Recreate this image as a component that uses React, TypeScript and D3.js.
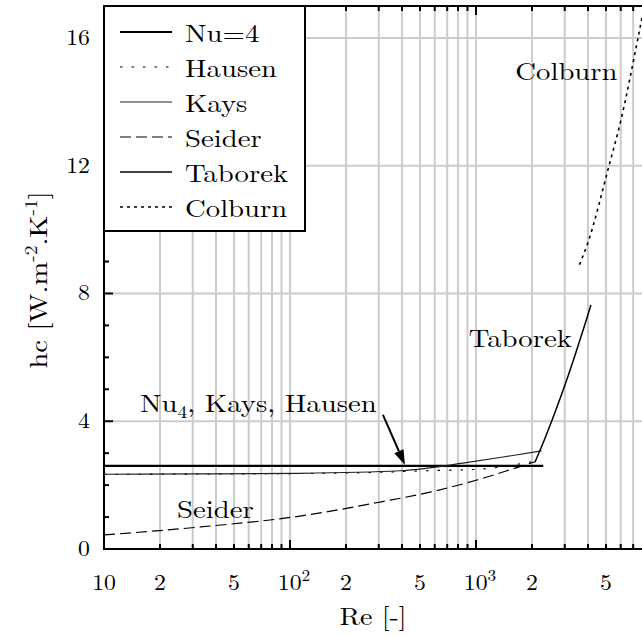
import React from "react";
import * as d3 from "d3";

// ---- data ----
const reNu4 = [10, 2300];
const hcNu4 = [2.6, 2.6];

const reKays = [10, 30, 113, 390, 545, 850, 1400, 2250];
const hcKays = [2.34, 2.35, 2.37, 2.45, 2.53, 2.69, 2.88, 3.07];

const reHausen = [10, 100, 300, 530, 1050, 1580, 2130];
const hcHausen = [2.34, 2.36, 2.4, 2.45, 2.5, 2.63, 2.76];

const reSeider = [10, 33, 113, 305, 566, 1012, 1563, 2100];
const hcSeider = [0.44, 0.69, 1.03, 1.47, 1.78, 2.16, 2.5, 2.74];

const reTaborek = [2075, 2350, 2660, 3010, 3400, 3850, 4150];
const hcTaborek = [2.72, 3.47, 4.28, 5.14, 6.05, 7.03, 7.64];

const reColburn = [3600, 4000, 5190, 6000, 7430, 8600];
const hcColburn = [8.9, 9.6, 12.0, 13.4, 16.0, 17.9];

const legendLabels = ["Nu=4", "Hausen", "Kays", "Seider", "Taborek", "Colburn"];
const yMajorTicks = [0, 4, 8, 12, 16];
const xLabelTicks = [
  { v: 10, base: "10", sup: "" },
  { v: 20, base: "2", sup: "" },
  { v: 50, base: "5", sup: "" },
  { v: 100, base: "10", sup: "2" },
  { v: 200, base: "2", sup: "" },
  { v: 500, base: "5", sup: "" },
  { v: 1000, base: "10", sup: "3" },
  { v: 2000, base: "2", sup: "" },
  { v: 5000, base: "5", sup: "" },
];

// annotations in data space
const arrowFrom = [316, 4.2];
const arrowTo = [415, 2.63];

const FONT = "Latin Modern Roman";
const W = 642;
const H = 637;
const L = 104;
const T = 6;
const B = 549;
const R = 104 + 3 * 186;

const x = d3.scaleLog().domain([10, 10000]).range([L, R]);
const y = d3.scaleLinear().domain([0, 17]).range([B, T]);

function path(re: number[], hc: number[]) {
  const line = d3
    .line<number>()
    .x((d) => x(d))
    .y((_d, i) => y(hc[i]))
    .curve(d3.curveMonotoneX);
  return line(re) || "";
}

type Style = { w: number; dash?: string; color: string };
const styles: Style[] = [
  { w: 2.2, color: "#000" },
  { w: 1.1, dash: "2.5,9", color: "#000" },
  { w: 1.2, color: "#222" },
  { w: 1.2, dash: "11,5", color: "#000" },
  { w: 1.5, color: "#000" },
  { w: 1.6, dash: "3,4", color: "#000" },
];

function Txt(props: {
  x: number;
  y: number;
  size: number;
  sx?: number;
  anchor?: string;
  rotate?: number;
  children: React.ReactNode;
}) {
  const sx = props.sx ?? 1.15;
  const rot = props.rotate ? ` rotate(${props.rotate})` : "";
  return (
    <text
      transform={`translate(${props.x},${props.y})${rot} scale(${sx},1)`}
      style={{ fontFamily: FONT, fontSize: props.size + "px" }}
      textAnchor={props.anchor ?? "start"}
      fill="#000"
    >
      {props.children}
    </text>
  );
}

export default function App() {
  const series = [
    { re: reNu4, hc: hcNu4, s: styles[0] },
    { re: reHausen, hc: hcHausen, s: styles[1] },
    { re: reKays, hc: hcKays, s: styles[2] },
    { re: reSeider, hc: hcSeider, s: styles[3] },
    { re: reTaborek, hc: hcTaborek, s: styles[4] },
    { re: reColburn, hc: hcColburn, s: styles[5] },
  ];
  const xt = x.ticks();
  const yMinor = d3.range(0, 18, 1);

  // arrow geometry
  const ax1 = x(arrowFrom[0]);
  const ay1 = y(arrowFrom[1]);
  const ax2 = x(arrowTo[0]);
  const ay2 = y(arrowTo[1]);
  const dx = ax2 - ax1;
  const dy = ay2 - ay1;
  const len = Math.hypot(dx, dy);
  const ux = dx / len;
  const uy = dy / len;
  const hl = 15;
  const hw = 5;
  const bx = ax2 - hl * ux;
  const by = ay2 - hl * uy;
  const head = `M${ax2},${ay2}L${bx - hw * uy},${by + hw * ux}L${bx + hw * uy},${by - hw * ux}Z`;

  return (
    <div style={{ position: "absolute", left: 0, top: 0 }}>
      <svg width={W} height={H} style={{ display: "block", background: "#fff" }}>
        <defs>
          <clipPath id="plotclip">
            <rect x={L} y={T} width={R - L} height={B - T} />
          </clipPath>
        </defs>
        {/* grid */}
        <g stroke="#cccccc" strokeWidth={2}>
          {xt
            .filter((v) => v > 10 && v < 10000)
            .map((v) => (
              <line key={"gx" + v} x1={x(v)} x2={x(v)} y1={T} y2={B} />
            ))}
          {yMajorTicks
            .filter((v) => v > 0)
            .map((v) => (
              <line key={"gy" + v} x1={L} x2={R} y1={y(v)} y2={y(v)} />
            ))}
        </g>
        {/* ticks */}
        <g stroke="#000" strokeWidth={2}>
          {xt.map((v) => {
            const major = Math.abs(Math.log10(v) - Math.round(Math.log10(v))) < 1e-9;
            const l = major ? 9 : 5;
            return (
              <g key={"tx" + v}>
                <line x1={x(v)} x2={x(v)} y1={B} y2={B - l} />
                <line x1={x(v)} x2={x(v)} y1={T} y2={T + l} />
              </g>
            );
          })}
          {yMinor.map((v) => {
            const major = v % 4 === 0;
            const l = major ? 9 : 5;
            return <line key={"ty" + v} x1={L} x2={L + l} y1={y(v)} y2={y(v)} />;
          })}
        </g>
        {/* series */}
        <g clipPath="url(#plotclip)" fill="none">
          {series.map((sr, i) => (
            <path
              key={"s" + i}
              d={path(sr.re, sr.hc)}
              stroke={sr.s.color}
              strokeWidth={sr.s.w}
              strokeDasharray={sr.s.dash}
            />
          ))}
        </g>
        {/* frame */}
        <g stroke="#000" strokeWidth={2}>
          <line x1={L} x2={L} y1={T - 1} y2={B + 1} />
          <line x1={L} x2={R} y1={B} y2={B} />
          <line x1={L} x2={R} y1={T} y2={T} />
        </g>
        {/* annotation arrow */}
        <line x1={ax1} y1={ay1} x2={bx} y2={by} stroke="#000" strokeWidth={2} />
        <path d={head} fill="#000" />
        {/* annotation labels */}
        <Txt x={x(15.6)} y={y(4.29)} size={25}>
          Nu
          <tspan style={{ fontSize: "17px" }} dy={6}>
            4
          </tspan>
          <tspan dy={-6}>, Kays, Hausen</tspan>
        </Txt>
        <Txt x={x(24.7)} y={y(0.97)} size={25}>
          Seider
        </Txt>
        <Txt x={x(915)} y={y(6.32)} size={25}>
          Taborek
        </Txt>
        <Txt x={x(1626)} y={y(14.68)} size={25}>
          Colburn
        </Txt>
        {/* legend */}
        <rect x={L} y={T} width={201} height={225} fill="#fff" stroke="#000" strokeWidth={2} />
        {legendLabels.map((lab, i) => {
          const by2 = 42 + i * 35;
          const s = styles[i];
          return (
            <g key={"lg" + i}>
              <line
                x1={120}
                x2={172}
                y1={by2 - 10}
                y2={by2 - 10}
                stroke={s.color}
                strokeWidth={s.w}
                strokeDasharray={s.dash}
              />
              <Txt x={185} y={by2} size={25}>
                {lab}
              </Txt>
            </g>
          );
        })}
        {/* tick labels */}
        {yMajorTicks.map((v) => (
          <Txt key={"yl" + v} x={90} y={y(v) + 7} size={22} sx={1.08} anchor="end">
            {String(v)}
          </Txt>
        ))}
        {xLabelTicks.map((t) => (
          <Txt key={"xl" + t.v} x={x(t.v) + (t.sup ? 4 : 0)} y={590} size={22} sx={1.08} anchor="middle">
            {t.base}
            {t.sup ? (
              <tspan style={{ fontSize: "16px" }} dy={-9}>
                {t.sup}
              </tspan>
            ) : null}
          </Txt>
        ))}
        {/* axis titles */}
        <Txt x={373} y={625} size={25} sx={1.12} anchor="middle">
          Re [-]
        </Txt>
        <Txt x={47} y={280} size={25} sx={1.14} anchor="middle" rotate={-90}>
          hc [W.m
          <tspan style={{ fontSize: "17px" }} dy={-10}>
            -2
          </tspan>
          <tspan dy={10}>.K</tspan>
          <tspan style={{ fontSize: "17px" }} dy={-10}>
            -1
          </tspan>
          <tspan dy={10}>]</tspan>
        </Txt>
      </svg>
    </div>
  );
}
